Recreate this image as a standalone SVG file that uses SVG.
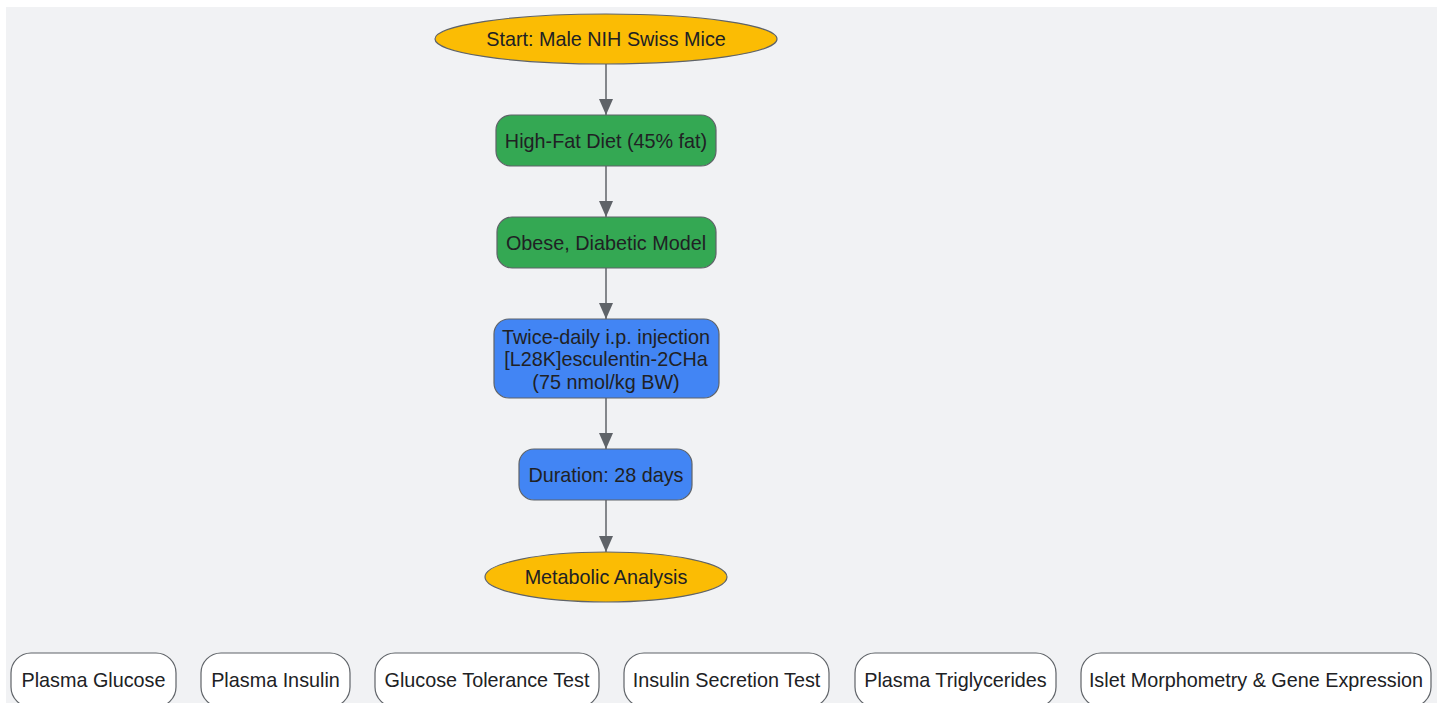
<svg xmlns="http://www.w3.org/2000/svg" width="1443" height="703" viewBox="0 0 1443 703">
<defs>
<style>
.t{font-family:"Liberation Sans",Arial,sans-serif;font-size:19.8px;fill:#202124;text-anchor:middle;dominant-baseline:central}
.n{stroke:#5f6368;stroke-width:1.2}
.y{fill:#fbbc04}
.g{fill:#34a853}
.b{fill:#4285f4}
.w{fill:#ffffff}
.e{stroke:#5f6368;stroke-width:1.5;fill:none}
</style>
<marker id="ah" markerWidth="16" markerHeight="14" refX="16" refY="7" orient="auto" markerUnits="userSpaceOnUse" viewBox="0 0 16 14">
<path d="M0,0 L16,7 L0,14 Z" fill="#5f6368"/>
</marker>
</defs>
<rect x="0" y="0" width="1443" height="703" fill="#ffffff"/>
<rect x="6" y="7" width="1431" height="700" fill="#f1f2f4"/>
<g id="connectors">
<line class="e" x1="606" y1="64" x2="606" y2="115" marker-end="url(#ah)"/>
<line class="e" x1="606" y1="166" x2="606" y2="217" marker-end="url(#ah)"/>
<line class="e" x1="606" y1="268" x2="606" y2="319" marker-end="url(#ah)"/>
<line class="e" x1="606" y1="398" x2="606" y2="449" marker-end="url(#ah)"/>
<line class="e" x1="606" y1="500" x2="606" y2="552" marker-end="url(#ah)"/>
</g>
<g id="start">
<ellipse class="n y" cx="606" cy="39" rx="171" ry="25"/>
<text class="t" x="606" y="39">Start: Male NIH Swiss Mice</text>
</g>
<g id="hfd">
<rect class="n g" x="496" y="115" width="220" height="51" rx="15"/>
<text class="t" x="606" y="141">High-Fat Diet (45% fat)</text>
</g>
<g id="obese">
<rect class="n g" x="497" y="217" width="219" height="51" rx="15"/>
<text class="t" x="606" y="243">Obese, Diabetic Model</text>
</g>
<g id="injection">
<rect class="n b" x="494" y="319" width="225" height="79" rx="15"/>
<text class="t" x="606" y="337">Twice-daily i.p. injection</text>
<text class="t" x="606" y="359">[L28K]esculentin-2CHa</text>
<text class="t" x="606" y="382">(75 nmol/kg BW)</text>
</g>
<g id="duration">
<rect class="n b" x="519" y="449" width="173" height="51" rx="15"/>
<text class="t" x="606" y="475">Duration: 28 days</text>
</g>
<g id="analysis">
<ellipse class="n y" cx="606" cy="577" rx="121" ry="25"/>
<text class="t" x="606" y="577">Metabolic Analysis</text>
</g>
<g id="glucose">
<rect class="n w" x="11" y="653" width="165" height="54" rx="20"/>
<text class="t" x="93.5" y="680">Plasma Glucose</text>
</g>
<g id="insulin">
<rect class="n w" x="201" y="653" width="149" height="54" rx="20"/>
<text class="t" x="275.5" y="680">Plasma Insulin</text>
</g>
<g id="gtt">
<rect class="n w" x="375" y="653" width="224" height="54" rx="20"/>
<text class="t" x="487" y="680">Glucose Tolerance Test</text>
</g>
<g id="ist">
<rect class="n w" x="624" y="653" width="205" height="54" rx="20"/>
<text class="t" x="726.5" y="680">Insulin Secretion Test</text>
</g>
<g id="tg">
<rect class="n w" x="855" y="653" width="201" height="54" rx="20"/>
<text class="t" x="955.5" y="680">Plasma Triglycerides</text>
</g>
<g id="islet">
<rect class="n w" x="1081" y="653" width="350" height="54" rx="20"/>
<text class="t" x="1256" y="680">Islet Morphometry &amp; Gene Expression</text>
</g>
</svg>
